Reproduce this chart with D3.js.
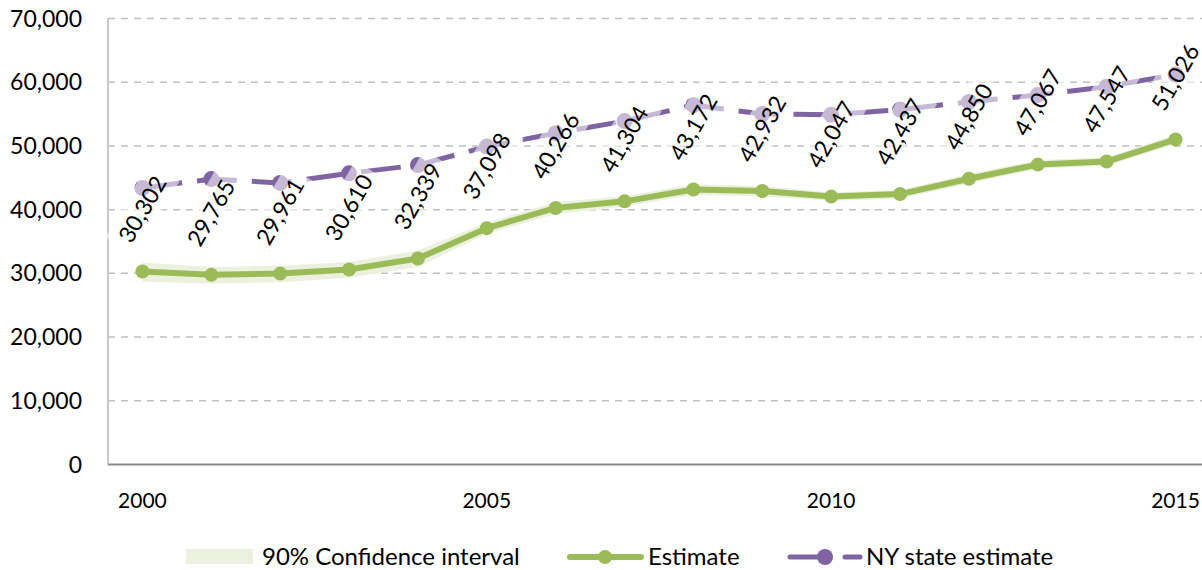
<!DOCTYPE html>
<html>
<head>
<meta charset="utf-8">
<script src="https://cdn.jsdelivr.net/npm/d3@7"></script>
<style>
  html, body { margin: 0; padding: 0; background: #fff; }
  svg { display: block; font-family: Lato, "Open Sans", sans-serif; }
</style>
</head>
<body>
<svg id="chart" width="1202" height="570"></svg>
<script>
// ---- data ----
const years = [2000, 2001, 2002, 2003, 2004, 2005, 2006, 2007, 2008, 2009, 2010, 2011, 2012, 2013, 2014, 2015];
const estimate = [30302, 29765, 29961, 30610, 32339, 37098, 40266, 41304, 43172, 42932, 42047, 42437, 44850, 47067, 47547, 51026];
const ciLow  = [28700, 28400, 28600, 29300, 31000, 36200, 39300, 40500, 42300, 42100, 41400, 41700, 44100, 46400, 46900, 50300];
const ciHigh = [31700, 31000, 31200, 31800, 33600, 38000, 41200, 42100, 44000, 43700, 42700, 43100, 45600, 47800, 48200, 51800];
const nyEstimate = [43400, 44800, 44200, 45700, 47000, 49900, 52000, 53900, 56400, 55000, 54900, 55700, 56900, 58000, 59300, 61200];
const yTicks = [0, 10000, 20000, 30000, 40000, 50000, 60000, 70000];
const xTickYears = [2000, 2005, 2010, 2015];
const legendLabels = ["90% Confidence interval", "Estimate", "NY state estimate"];

(function () {
// ---- styles ----
const GREEN = "#9bbb59", PURPLE = "#8064a2", BAND = "#ebf1de";
const svg = d3.select("#chart");
const pLeft = 108, pRight = 1210, pTop = 18.5, pBottom = 464.5;

const x = d3.scaleBand().domain(years).range([pLeft, pRight]).padding(0);
const cx = d => x(d) + x.bandwidth() / 2;
const y = d3.scaleLinear().domain([0, 70000]).range([pBottom, pTop]);
const fmt = d3.format(",");

// gridlines
svg.append("g").selectAll("line").data(yTicks.filter(t => t > 0)).join("line")
  .attr("x1", pLeft).attr("x2", 1202)
  .attr("y1", d => y(d)).attr("y2", d => y(d))
  .attr("stroke", "#c0c0c0").attr("stroke-width", 1.5).attr("stroke-dasharray", "7,6");

// y axis line
svg.append("line").attr("x1", pLeft).attr("x2", pLeft).attr("y1", pTop).attr("y2", pBottom)
  .attr("stroke", "#c8c8c8").attr("stroke-width", 2);

// y tick labels
svg.append("g").selectAll("text").data(yTicks).join("text")
  .attr("x", 82).attr("y", d => y(d)).attr("dy", "0.35em")
  .attr("text-anchor", "end").attr("font-size", 23).attr("fill", "#000")
  .text(d => fmt(d));

// x axis
svg.append("line").attr("x1", pLeft).attr("x2", 1202).attr("y1", pBottom).attr("y2", pBottom)
  .attr("stroke", "#8a8a8a").attr("stroke-width", 2);
svg.append("g").selectAll("text").data(xTickYears).join("text")
  .attr("x", d => cx(d)).attr("y", 508)
  .attr("text-anchor", "middle").attr("font-size", 21).attr("fill", "#000")
  .text(d => d);

// CI band
const band = years.map((yr, i) => ({ yr, lo: ciLow[i], hi: ciHigh[i] }));
svg.append("path").datum(band)
  .attr("fill", BAND)
  .attr("d", d3.area().x(d => cx(d.yr)).y0(d => y(d.lo)).y1(d => y(d.hi)));

// Estimate line
const est = years.map((yr, i) => ({ yr, v: estimate[i] }));
svg.append("path").datum(est)
  .attr("fill", "none").attr("stroke", GREEN).attr("stroke-width", 6).attr("stroke-linejoin", "round")
  .attr("d", d3.line().x(d => cx(d.yr)).y(d => y(d.v)));
svg.append("g").selectAll("circle").data(est).join("circle")
  .attr("cx", d => cx(d.yr)).attr("cy", d => y(d.v)).attr("r", 7).attr("fill", GREEN);

// NY line
const ny = years.map((yr, i) => ({ yr, v: nyEstimate[i] }));
svg.append("path").datum(ny)
  .attr("fill", "none").attr("stroke", PURPLE).attr("stroke-width", 5)
  .attr("stroke-dasharray", "40,15")
  .attr("d", d3.line().x(d => cx(d.yr)).y(d => y(d.v)));
svg.append("g").selectAll("circle").data(ny).join("circle")
  .attr("cx", d => cx(d.yr)).attr("cy", d => y(d.v)).attr("r", 8).attr("fill", PURPLE);

// data labels with semi-transparent boxes
const lg = svg.append("g").selectAll("g").data(est).join("g")
  .attr("transform", d => `translate(${cx(d.yr)},${y(d.v) - 62}) rotate(-60)`);
lg.append("rect").attr("fill", "#fff").attr("fill-opacity", 0.55);
const texts = lg.append("text")
  .attr("text-anchor", "middle").attr("dy", "0.35em")
  .attr("font-size", 23).attr("fill", "#000")
  .text(d => fmt(d.v));
texts.each(function () {
  const w = this.getComputedTextLength();
  d3.select(this.parentNode).select("rect")
    .attr("x", -w / 2 - 7).attr("y", -18).attr("width", w + 14).attr("height", 36);
});

// legend
const ly = 557;
svg.append("rect").attr("x", 186).attr("y", 549).attr("width", 67).attr("height", 15).attr("fill", BAND);
svg.append("text").attr("x", 262).attr("y", ly).attr("dy", "0.35em").attr("font-size", 24).text(legendLabels[0]);

svg.append("line").attr("x1", 570).attr("x2", 641).attr("y1", ly).attr("y2", ly)
  .attr("stroke", GREEN).attr("stroke-width", 6).attr("stroke-linecap", "round");
svg.append("circle").attr("cx", 605).attr("cy", ly).attr("r", 7).attr("fill", GREEN);
svg.append("text").attr("x", 648).attr("y", ly).attr("dy", "0.35em").attr("font-size", 24).text(legendLabels[1]);

svg.append("line").attr("x1", 790).attr("x2", 860).attr("y1", ly).attr("y2", ly)
  .attr("stroke", PURPLE).attr("stroke-width", 5).attr("stroke-linecap", "round")
  .attr("stroke-dasharray", "40,15");
svg.append("circle").attr("cx", 825).attr("cy", ly).attr("r", 8).attr("fill", PURPLE);
svg.append("text").attr("x", 866).attr("y", ly).attr("dy", "0.35em").attr("font-size", 24).text(legendLabels[2]);
})();
</script>
</body>
</html>
